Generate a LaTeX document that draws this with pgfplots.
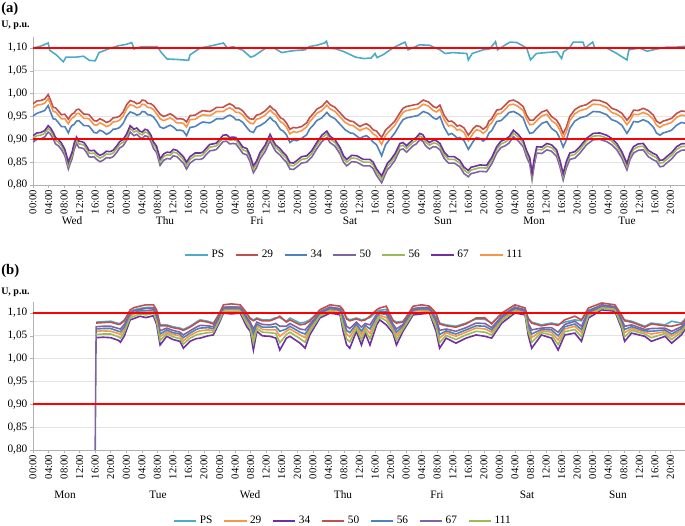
\documentclass[border=0pt]{standalone}
\usepackage{fontspec}
\setmainfont{Liberation Serif}
\usepackage{pgfplots}
\pgfplotsset{compat=1.18}
\usepackage{pgfplotstable}

\definecolor{cPS}{HTML}{4BACC6}
\definecolor{cRed}{HTML}{C0504D}
\definecolor{cBlue}{HTML}{4F81BD}
\definecolor{cLav}{HTML}{8064A2}
\definecolor{cGreen}{HTML}{9BBB59}
\definecolor{cPurp}{HTML}{7030A0}
\definecolor{cOrange}{HTML}{F79646}

% ---------- panel (a) ----------
\pgfplotstableread{
h v
0 1.100
2 1.104
3.9 1.111
4.3 1.095
6 1.085
7.8 1.070
8.5 1.080
11 1.080
13 1.082
14.5 1.073
16 1.072
17 1.090
20 1.100
22 1.105
24 1.108
25.4 1.112
26 1.098
28 1.103
32 1.103
33 1.090
34.5 1.076
37 1.075
40 1.073
40.4 1.085
43 1.100
46 1.105
49 1.111
50 1.100
51.5 1.103
54 1.095
56 1.080
57 1.083
59 1.095
60 1.100
62 1.100
64 1.090
66 1.093
68 1.095
70 1.096
71 1.103
73 1.106
75 1.111
75.5 1.115
76 1.100
78 1.098
80 1.092
83 1.080
85 1.077
87 1.078
88 1.088
88.5 1.079
90 1.085
92.6 1.100
94 1.106
95.7 1.113
96.5 1.096
99.5 1.107
102 1.106
104.7 1.096
106 1.088
108 1.090
111.6 1.088
112 1.074
113 1.088
115.8 1.096
117.5 1.098
119 1.114
119.5 1.096
122.7 1.113
124.5 1.112
127 1.100
128 1.074
129.5 1.088
132 1.090
134.8 1.092
136 1.077
136.5 1.092
138 1.100
139 1.113
141.5 1.113
142 1.100
144 1.113
144.5 1.100
147.6 1.100
150 1.089
152.8 1.074
153.3 1.096
156 1.100
158 1.093
159.5 1.096
163 1.102
165.6 1.102
168 1.104
}\tabPSa

\pgfplotstableread{
h r o b
0 0.978 0.969 0.951
1 0.984 0.975 0.957
2 0.985 0.976 0.960
3 0.988 0.979 0.963
3.9 0.998 0.989 0.974
4.5 0.986 0.977 0.960
5.2 0.970 0.961 0.945
5.8 0.969 0.960 0.944
6.5 0.962 0.953 0.937
7.3 0.954 0.945 0.928
8.2 0.955 0.945 0.928
9.1 0.944 0.934 0.914
9.6 0.951 0.942 0.925
10 0.955 0.946 0.930
10.6 0.958 0.949 0.933
11.2 0.965 0.956 0.940
11.8 0.966 0.957 0.941
12.5 0.960 0.951 0.935
13.1 0.955 0.946 0.930
13.8 0.955 0.946 0.930
14.4 0.954 0.945 0.929
15 0.948 0.939 0.923
15.7 0.941 0.932 0.915
16.4 0.940 0.931 0.914
17.2 0.945 0.936 0.920
18 0.942 0.933 0.917
18.9 0.937 0.928 0.911
19.8 0.940 0.931 0.915
20.6 0.947 0.938 0.922
21.5 0.948 0.939 0.923
22.3 0.951 0.942 0.926
23.2 0.960 0.951 0.935
24.1 0.976 0.967 0.951
25 0.985 0.976 0.960
26 0.982 0.973 0.957
26.7 0.978 0.969 0.953
27.5 0.980 0.971 0.955
28.1 0.986 0.977 0.961
28.8 0.985 0.976 0.960
29.5 0.979 0.970 0.954
30.3 0.978 0.969 0.953
31 0.974 0.965 0.949
31.8 0.965 0.956 0.940
32.7 0.955 0.945 0.927
33.6 0.950 0.941 0.924
34.5 0.953 0.944 0.928
35.3 0.956 0.947 0.931
36.1 0.952 0.943 0.927
37 0.945 0.936 0.920
38 0.945 0.936 0.920
38.7 0.944 0.935 0.918
39.5 0.938 0.927 0.908
40.4 0.952 0.943 0.926
41.7 0.953 0.944 0.928
43 0.960 0.951 0.935
43.7 0.963 0.954 0.938
44.5 0.962 0.953 0.937
45.5 0.961 0.952 0.936
46.4 0.965 0.956 0.940
47.2 0.970 0.961 0.945
48 0.970 0.961 0.945
48.9 0.970 0.961 0.945
49.8 0.975 0.966 0.950
50.6 0.978 0.969 0.953
51.5 0.974 0.965 0.949
52.2 0.968 0.959 0.943
53 0.968 0.959 0.943
54 0.962 0.953 0.937
55 0.951 0.942 0.926
55.8 0.945 0.936 0.918
56.7 0.944 0.934 0.915
57.5 0.953 0.944 0.927
58.4 0.955 0.946 0.930
59.7 0.962 0.953 0.937
61 0.973 0.964 0.948
61.8 0.966 0.957 0.941
62.4 0.963 0.954 0.938
63 0.955 0.946 0.930
63.7 0.947 0.938 0.921
64.4 0.944 0.935 0.918
65.2 0.936 0.927 0.910
66.1 0.922 0.912 0.893
67 0.926 0.917 0.899
67.8 0.925 0.915 0.897
69.1 0.928 0.919 0.902
70.4 0.936 0.927 0.910
71.2 0.948 0.939 0.923
72 0.955 0.946 0.930
73 0.966 0.957 0.941
74.3 0.972 0.963 0.947
75.6 0.984 0.975 0.959
76.4 0.976 0.967 0.951
77.7 0.970 0.961 0.945
79 0.958 0.949 0.933
80.3 0.946 0.937 0.921
81.6 0.940 0.931 0.914
82.4 0.939 0.930 0.913
83.3 0.933 0.924 0.907
84.1 0.928 0.919 0.902
85 0.932 0.923 0.906
85.8 0.934 0.925 0.908
86.7 0.929 0.920 0.902
87.5 0.921 0.912 0.894
88.4 0.918 0.907 0.888
89.7 0.904 0.889 0.864
90.7 0.920 0.909 0.888
91.8 0.929 0.919 0.900
93.1 0.940 0.931 0.914
94.4 0.958 0.949 0.933
95.2 0.968 0.959 0.943
96.1 0.972 0.963 0.947
97.8 0.975 0.966 0.950
99 0.977 0.968 0.952
100.4 0.986 0.977 0.961
101.7 0.982 0.973 0.957
103 0.972 0.963 0.947
103.8 0.969 0.960 0.944
104.7 0.975 0.966 0.950
105.8 0.952 0.943 0.926
106.9 0.939 0.929 0.910
107.7 0.940 0.931 0.913
108.5 0.935 0.926 0.908
109.1 0.929 0.920 0.903
109.8 0.931 0.922 0.904
110.9 0.925 0.915 0.897
112 0.909 0.897 0.878
113.3 0.924 0.914 0.896
114.1 0.930 0.921 0.904
115 0.928 0.919 0.902
115.8 0.922 0.913 0.896
116.7 0.928 0.919 0.902
117.3 0.940 0.931 0.914
118 0.945 0.936 0.919
119.3 0.964 0.955 0.939
120.4 0.966 0.957 0.941
121.5 0.975 0.966 0.950
122.5 0.984 0.975 0.959
123.6 0.986 0.977 0.961
124.8 0.981 0.972 0.956
126.1 0.972 0.963 0.947
127 0.953 0.944 0.927
127.8 0.942 0.932 0.913
128.7 0.942 0.933 0.915
129.6 0.950 0.941 0.924
130.9 0.960 0.951 0.935
132.2 0.964 0.955 0.939
133.4 0.950 0.941 0.924
134.7 0.942 0.933 0.916
135.5 0.931 0.921 0.903
136.4 0.913 0.902 0.883
137.2 0.926 0.916 0.898
138.1 0.950 0.941 0.924
139.4 0.965 0.956 0.940
140.7 0.972 0.963 0.947
142.4 0.976 0.967 0.951
144.1 0.986 0.977 0.961
145.8 0.985 0.976 0.960
147.6 0.979 0.970 0.954
148.9 0.968 0.959 0.943
150.2 0.964 0.955 0.939
151.5 0.957 0.948 0.931
152.8 0.942 0.932 0.913
153.6 0.950 0.941 0.924
154.5 0.964 0.955 0.939
155.7 0.963 0.954 0.938
157 0.968 0.959 0.943
158.3 0.963 0.954 0.938
159.6 0.953 0.944 0.927
160.4 0.940 0.931 0.914
161.3 0.935 0.926 0.909
162.1 0.940 0.931 0.914
163 0.942 0.933 0.916
164.3 0.946 0.937 0.920
165.6 0.957 0.948 0.931
166.8 0.962 0.953 0.937
168 0.961 0.952 0.935
}\tabUp

\pgfplotstableread{
h p g l
0 0.908 0.902 0.894
1 0.914 0.908 0.900
2 0.915 0.909 0.901
3 0.919 0.913 0.905
3.9 0.930 0.924 0.916
4.5 0.925 0.919 0.911
5.2 0.915 0.909 0.901
5.8 0.904 0.898 0.890
6.5 0.900 0.894 0.886
7.3 0.892 0.886 0.878
8.2 0.878 0.872 0.864
9.1 0.850 0.843 0.835
9.6 0.862 0.856 0.848
10 0.870 0.864 0.856
10.6 0.892 0.886 0.878
11.2 0.905 0.899 0.891
11.8 0.896 0.890 0.882
12.5 0.895 0.889 0.881
13.1 0.893 0.887 0.879
13.8 0.885 0.879 0.871
14.4 0.876 0.870 0.862
15 0.875 0.869 0.861
15.7 0.876 0.870 0.862
16.4 0.870 0.864 0.856
17.2 0.865 0.859 0.851
18 0.868 0.862 0.854
18.9 0.874 0.868 0.860
19.8 0.873 0.867 0.859
20.6 0.876 0.870 0.862
21.5 0.885 0.879 0.871
22.3 0.895 0.889 0.881
23.2 0.900 0.894 0.886
24.1 0.912 0.906 0.898
25 0.930 0.924 0.916
26 0.922 0.916 0.908
26.7 0.925 0.919 0.911
27.5 0.918 0.912 0.904
28.1 0.916 0.910 0.902
28.8 0.922 0.916 0.908
29.5 0.920 0.914 0.906
30.3 0.910 0.904 0.896
31 0.894 0.888 0.880
31.8 0.885 0.879 0.871
32.7 0.857 0.851 0.843
33.6 0.868 0.862 0.854
34.5 0.872 0.866 0.858
35.3 0.871 0.865 0.857
36.1 0.878 0.872 0.864
37 0.876 0.870 0.862
38 0.868 0.862 0.854
38.7 0.862 0.856 0.848
39.5 0.850 0.843 0.835
40.4 0.862 0.856 0.848
41.7 0.870 0.864 0.856
43 0.870 0.864 0.856
43.7 0.872 0.866 0.858
44.5 0.880 0.874 0.866
45.5 0.889 0.883 0.875
46.4 0.890 0.884 0.876
47.2 0.892 0.886 0.878
48 0.900 0.894 0.886
48.9 0.909 0.903 0.895
49.8 0.910 0.904 0.896
50.6 0.904 0.898 0.890
51.5 0.905 0.899 0.891
52.2 0.904 0.898 0.890
53 0.895 0.889 0.881
54 0.883 0.877 0.869
55 0.880 0.874 0.866
55.8 0.866 0.860 0.852
56.7 0.842 0.835 0.827
57.5 0.852 0.846 0.838
58.4 0.871 0.865 0.857
59.7 0.887 0.881 0.873
61 0.911 0.905 0.897
61.8 0.897 0.891 0.883
62.4 0.888 0.882 0.874
63.5 0.880 0.874 0.866
64.4 0.871 0.865 0.857
65.2 0.864 0.858 0.850
66.1 0.849 0.843 0.835
67 0.848 0.842 0.834
67.8 0.853 0.847 0.839
69.1 0.862 0.856 0.848
70.4 0.864 0.858 0.850
71.7 0.875 0.869 0.861
73 0.893 0.887 0.879
74.3 0.909 0.903 0.895
75.6 0.918 0.912 0.904
76.4 0.907 0.901 0.893
77.7 0.899 0.893 0.885
79 0.882 0.876 0.868
79.9 0.864 0.858 0.850
80.7 0.856 0.850 0.842
82 0.865 0.859 0.851
83.3 0.864 0.858 0.850
85 0.856 0.850 0.842
86.7 0.856 0.850 0.842
87.5 0.850 0.844 0.836
88.4 0.835 0.829 0.821
89.7 0.820 0.813 0.805
90.5 0.835 0.829 0.821
91.2 0.848 0.842 0.834
91.8 0.853 0.847 0.839
93.1 0.868 0.862 0.854
94.4 0.891 0.885 0.877
95.2 0.893 0.887 0.879
96.1 0.886 0.880 0.872
97.8 0.900 0.894 0.886
98.6 0.904 0.898 0.890
99.5 0.913 0.907 0.899
100.3 0.910 0.904 0.896
101 0.900 0.894 0.886
102 0.893 0.887 0.879
103 0.898 0.892 0.884
103.8 0.897 0.891 0.883
104.7 0.891 0.885 0.877
105.8 0.872 0.866 0.858
106.9 0.862 0.856 0.848
108.4 0.862 0.856 0.848
109.8 0.854 0.848 0.840
110.9 0.839 0.833 0.825
112 0.832 0.826 0.818
112.7 0.839 0.833 0.825
113.3 0.840 0.834 0.826
115 0.844 0.838 0.830
116.7 0.843 0.837 0.829
118 0.860 0.854 0.846
119.3 0.884 0.878 0.870
120.4 0.896 0.890 0.882
121.5 0.900 0.894 0.886
122.5 0.906 0.900 0.892
123.6 0.920 0.914 0.906
124.8 0.911 0.905 0.897
126.1 0.898 0.892 0.884
127 0.875 0.869 0.861
127.8 0.860 0.854 0.846
128.4 0.826 0.820 0.812
129 0.860 0.854 0.846
129.6 0.884 0.878 0.870
130.9 0.883 0.877 0.869
132.2 0.891 0.885 0.877
133.4 0.888 0.882 0.874
134.7 0.877 0.871 0.863
135.5 0.856 0.850 0.842
136.4 0.825 0.819 0.811
137.2 0.851 0.845 0.837
138.1 0.870 0.864 0.856
139.4 0.873 0.867 0.859
140.7 0.884 0.878 0.870
142.4 0.902 0.896 0.888
144.1 0.913 0.907 0.899
145.8 0.914 0.908 0.900
147.6 0.909 0.903 0.895
148.9 0.902 0.896 0.888
150.2 0.891 0.885 0.877
151.5 0.873 0.867 0.859
152.8 0.847 0.841 0.833
153.6 0.870 0.864 0.856
154.5 0.884 0.878 0.870
155.7 0.890 0.884 0.876
157 0.891 0.885 0.877
158.3 0.876 0.870 0.862
159.6 0.869 0.863 0.855
160.4 0.866 0.860 0.852
161.3 0.854 0.848 0.840
162.1 0.855 0.849 0.841
163 0.862 0.856 0.848
164.3 0.871 0.865 0.857
165.6 0.884 0.878 0.870
166.8 0.890 0.884 0.876
168 0.891 0.885 0.877
}\tabLow

% ---------- panel (b) ----------
\pgfplotstableread{
h ps n29 n34 n50 n56 n67 n111
16 nan nan nan nan nan 0.800 nan
16.25 1.080 1.060 1.046 1.078 1.065 1.070 1.053
18 1.081 1.061 1.047 1.079 1.066 1.071 1.054
20 1.082 1.060 1.046 1.080 1.066 1.071 1.054
22 1.077 1.055 1.040 1.075 1.060 1.066 1.048
22.5 1.078 1.053 1.036 1.076 1.059 1.065 1.045
23.5 1.085 1.064 1.050 1.083 1.069 1.075 1.058
25 1.103 1.094 1.085 1.107 1.097 1.100 1.090
26 1.107 1.098 1.088 1.112 1.101 1.105 1.093
27.5 1.110 1.102 1.093 1.115 1.105 1.108 1.098
29 1.112 1.101 1.090 1.118 1.105 1.110 1.096
31 1.112 1.104 1.094 1.118 1.107 1.111 1.099
31.8 1.103 1.088 1.075 1.107 1.093 1.097 1.082
32.7 1.074 1.048 1.030 1.072 1.054 1.061 1.040
34.4 1.074 1.059 1.049 1.072 1.063 1.067 1.055
36 1.070 1.053 1.042 1.068 1.057 1.062 1.048
37.8 1.067 1.050 1.038 1.065 1.054 1.058 1.044
38.7 1.064 1.039 1.023 1.062 1.046 1.052 1.032
40.4 1.071 1.051 1.038 1.069 1.056 1.061 1.045
42 1.080 1.058 1.044 1.078 1.064 1.069 1.052
43 1.085 1.061 1.045 1.083 1.067 1.073 1.054
45 1.082 1.063 1.050 1.080 1.068 1.072 1.057
46.4 1.078 1.062 1.052 1.076 1.066 1.070 1.058
48 1.098 1.088 1.080 1.100 1.091 1.094 1.084
49 1.112 1.107 1.100 1.118 1.110 1.113 1.104
51 1.114 1.107 1.098 1.120 1.110 1.113 1.103
53.3 1.112 1.107 1.100 1.118 1.110 1.113 1.104
55 1.097 1.082 1.070 1.100 1.087 1.091 1.077
55.9 1.089 1.072 1.060 1.087 1.076 1.080 1.066
56.7 1.085 1.045 1.019 1.083 1.055 1.065 1.034
57.6 1.089 1.072 1.060 1.087 1.076 1.080 1.066
59 1.085 1.064 1.050 1.083 1.069 1.075 1.058
61 1.085 1.063 1.049 1.083 1.069 1.074 1.057
62.5 1.090 1.063 1.045 1.088 1.070 1.077 1.055
63.5 1.090 1.049 1.019 1.093 1.060 1.071 1.035
65.2 1.082 1.060 1.045 1.080 1.065 1.071 1.053
66.1 1.089 1.065 1.049 1.085 1.071 1.077 1.058
68.7 1.078 1.052 1.034 1.074 1.058 1.065 1.044
70 1.080 1.046 1.023 1.076 1.054 1.063 1.036
71.2 1.085 1.065 1.052 1.082 1.070 1.075 1.059
73.8 1.103 1.096 1.089 1.107 1.099 1.102 1.093
76.4 1.112 1.107 1.100 1.118 1.110 1.113 1.104
79 1.110 1.104 1.096 1.115 1.106 1.109 1.100
79.8 1.103 1.079 1.060 1.107 1.086 1.093 1.070
80.7 1.089 1.054 1.030 1.087 1.062 1.071 1.043
81.5 1.085 1.048 1.023 1.083 1.057 1.066 1.037
83.2 1.089 1.072 1.060 1.087 1.076 1.080 1.066
84.5 1.085 1.052 1.030 1.083 1.060 1.069 1.042
85.5 1.087 1.068 1.055 1.085 1.073 1.077 1.062
86.7 1.090 1.055 1.030 1.093 1.065 1.074 1.044
88.4 1.103 1.087 1.074 1.107 1.092 1.097 1.081
89.2 1.106 1.095 1.085 1.111 1.099 1.103 1.091
90.9 1.108 1.090 1.074 1.115 1.097 1.103 1.083
92.6 1.085 1.068 1.056 1.083 1.072 1.076 1.062
93.5 1.080 1.050 1.030 1.078 1.058 1.065 1.041
95.2 1.082 1.069 1.060 1.080 1.072 1.075 1.065
97.8 1.110 1.104 1.096 1.115 1.106 1.109 1.100
100 1.112 1.106 1.098 1.118 1.109 1.112 1.102
102 1.110 1.106 1.100 1.115 1.108 1.111 1.103
103.7 1.097 1.076 1.060 1.100 1.082 1.088 1.069
104.6 1.078 1.045 1.023 1.076 1.053 1.062 1.035
106.3 1.074 1.057 1.045 1.072 1.061 1.065 1.051
108.8 1.071 1.049 1.034 1.069 1.054 1.060 1.042
111.4 1.078 1.058 1.045 1.076 1.063 1.068 1.052
114 1.087 1.067 1.052 1.089 1.072 1.078 1.060
116.3 1.086 1.065 1.049 1.089 1.071 1.077 1.058
118 1.078 1.058 1.045 1.076 1.063 1.068 1.052
120.6 1.097 1.087 1.078 1.100 1.090 1.093 1.083
124 1.112 1.107 1.100 1.118 1.110 1.113 1.104
126.6 1.107 1.102 1.096 1.111 1.104 1.107 1.099
127.4 1.089 1.067 1.052 1.087 1.072 1.078 1.060
128.3 1.080 1.046 1.023 1.078 1.054 1.063 1.036
130.8 1.074 1.061 1.052 1.072 1.064 1.067 1.057
133.4 1.078 1.058 1.045 1.076 1.063 1.068 1.052
135.1 1.075 1.041 1.019 1.073 1.050 1.058 1.031
136.8 1.080 1.065 1.052 1.085 1.070 1.075 1.059
139.4 1.085 1.071 1.056 1.093 1.076 1.082 1.064
141.1 1.083 1.057 1.038 1.085 1.064 1.071 1.048
142.9 1.106 1.098 1.089 1.111 1.101 1.104 1.094
146.3 1.116 1.113 1.107 1.122 1.115 1.118 1.110
149.7 1.113 1.110 1.104 1.118 1.112 1.114 1.107
151.4 1.093 1.079 1.067 1.096 1.083 1.087 1.073
152.2 1.085 1.057 1.038 1.083 1.064 1.071 1.048
154 1.082 1.066 1.056 1.080 1.070 1.074 1.062
157.4 1.071 1.058 1.049 1.069 1.061 1.064 1.054
159.1 1.078 1.054 1.038 1.076 1.060 1.066 1.046
162.6 1.074 1.059 1.049 1.072 1.063 1.067 1.055
164.3 1.082 1.049 1.034 1.071 1.054 1.060 1.042
166.8 1.078 1.062 1.052 1.076 1.066 1.070 1.058
168 1.089 1.076 1.067 1.087 1.079 1.082 1.072
}\tabB

\pgfplotsset{
  myax/.style={
    scale only axis, width=489.75pt, height=111.3pt,
    xmin=0, xmax=168, ymin=0.8, ymax=1.125,
    axis x line*=bottom, axis y line*=left,
    axis line style={draw=gray!60, -},
    xtick={0,4,...,164},
    xticklabels={00:00,04:00,08:00,12:00,16:00,20:00,00:00,04:00,08:00,12:00,16:00,20:00,00:00,04:00,08:00,12:00,16:00,20:00,00:00,04:00,08:00,12:00,16:00,20:00,00:00,04:00,08:00,12:00,16:00,20:00,00:00,04:00,08:00,12:00,16:00,20:00,00:00,04:00,08:00,12:00,16:00,20:00},
    x tick label style={rotate=90, anchor=east, font=\fontsize{8}{8}\selectfont, inner sep=1pt},
    ytick={0.8,0.85,0.9,0.95,1.0,1.05,1.1},
    yticklabels={{0,80},{0,85},{0,90},{0,95},{1,00},{1,05},{1,10}},
    y tick label style={font=\fontsize{8.5}{9}\selectfont, inner sep=1.5pt},
    tick style={draw=gray!60, thin}, tick align=outside, major tick length=2.5pt,
    ymajorgrids, grid style={draw=gray!22, line width=0.6pt},
    legend columns=7,
    legend style={draw=none, fill=none, font=\fontsize{8.5}{9}\selectfont,
      /tikz/every even column/.append style={column sep=6pt}},
    legend image code/.code={\draw[#1] (0pt,0pt) -- (17pt,0pt);},
    every axis plot/.append style={line width=1.2pt},
  },
  lim/.style={red, line width=1.5pt, forget plot},
}

\begin{document}
\begin{tikzpicture}
\path[use as bounding box] (0,0) rectangle (513.75pt,-393.75pt);

% ---- (a) ----
\begin{axis}[myax, at={(24.75pt,-138.75pt)}, anchor=south west,
  legend style={at={(0.493,-0.472)}, anchor=center}]
\addplot[cPS] table[x=h,y=v] {\tabPSa};
\addlegendentry{PS}
\addplot[cRed] table[x=h,y=r] {\tabUp};
\addlegendentry{29}
\addplot[cBlue] table[x=h,y=b] {\tabUp};
\addlegendentry{34}
\addplot[cLav] table[x=h,y=l] {\tabLow};
\addlegendentry{50}
\addplot[cGreen] table[x=h,y=g] {\tabLow};
\addlegendentry{56}
\addplot[cPurp] table[x=h,y=p] {\tabLow};
\addlegendentry{67}
\addplot[cOrange] table[x=h,y=o] {\tabUp};
\addlegendentry{111}
\addplot[lim] coordinates {(0,1.1) (168,1.1)};
\addplot[lim] coordinates {(0,0.9) (168,0.9)};
\end{axis}

% ---- (b) ----
\begin{axis}[myax, at={(24.75pt,-337.5pt)}, anchor=south west,
  legend style={at={(0.475,-0.478)}, anchor=center}]
\addplot[cPS] table[x=h,y=ps] {\tabB};
\addlegendentry{PS}
\addplot[cOrange] table[x=h,y=n29] {\tabB};
\addlegendentry{29}
\addplot[cPurp] table[x=h,y=n34] {\tabB};
\addlegendentry{34}
\addplot[cRed] table[x=h,y=n50] {\tabB};
\addlegendentry{50}
\addplot[cBlue] table[x=h,y=n56] {\tabB};
\addlegendentry{56}
\addplot[cLav] table[x=h,y=n67] {\tabB};
\addlegendentry{67}
\addplot[cGreen] table[x=h,y=n111] {\tabB};
\addlegendentry{111}
\addplot[lim] coordinates {(0,1.1) (168,1.1)};
\addplot[lim] coordinates {(0,0.9) (168,0.9)};
\end{axis}

% titles
\node[anchor=west, font=\bfseries\fontsize{11}{12}\selectfont, inner sep=0pt] at (0.75pt,-6.5pt) {(a)};
\node[anchor=west, font=\bfseries\fontsize{7.5}{8}\selectfont, inner sep=0pt] at (0.75pt,-18.75pt) {U, p.u.};
\node[anchor=west, font=\bfseries\fontsize{11}{12}\selectfont, inner sep=0pt] at (0.75pt,-203.25pt) {(b)};
\node[anchor=west, font=\bfseries\fontsize{7.5}{8}\selectfont, inner sep=0pt] at (0.75pt,-219pt) {U, p.u.};

% day labels
\begin{scope}[every node/.style={font=\fontsize{8.5}{9}\selectfont, inner sep=0pt}]
\node at (54pt,-165.5pt) {Wed};
\node at (123.75pt,-165.5pt) {Thu};
\node at (192.75pt,-165.5pt) {Fri};
\node at (262.5pt,-165.5pt) {Sat};
\node at (332.25pt,-165.5pt) {Sun};
\node at (400.5pt,-165.5pt) {Mon};
\node at (470.25pt,-165.5pt) {Tue};
\node at (48.75pt,-371.25pt) {Mon};
\node at (118.5pt,-371.25pt) {Tue};
\node at (187.5pt,-371.25pt) {Wed};
\node at (257.25pt,-371.25pt) {Thu};
\node at (327.75pt,-371.25pt) {Fri};
\node at (395.25pt,-371.25pt) {Sat};
\node at (463.5pt,-371.25pt) {Sun};
\end{scope}
\end{tikzpicture}
\end{document}
